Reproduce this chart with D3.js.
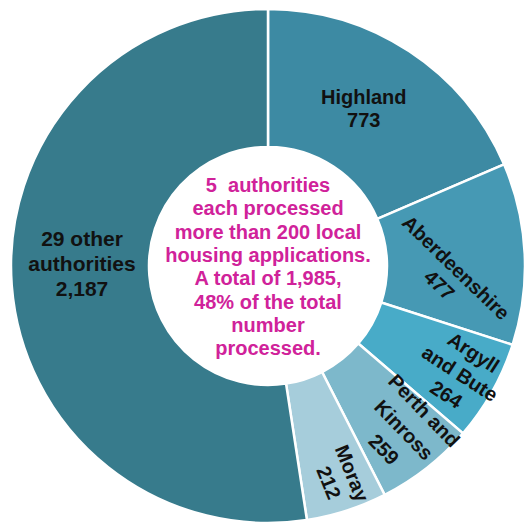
<!DOCTYPE html>
<html>
<head>
<meta charset="utf-8">
<script src="https://cdn.jsdelivr.net/npm/d3@7"></script>
<style>
  body { margin: 0; background: #fff; }
  text { font-family: "Liberation Sans", Arial, sans-serif; font-weight: bold; }
</style>
</head>
<body>
<div class="donut"></div>
<script>
// data
var names = ["Highland", "Aberdeenshire", "Argyll and Bute", "Perth and Kinross", "Moray", "29 other authorities"];
var values = [773, 477, 264, 259, 212, 2187];
var labelLines = [["Highland"], ["Aberdeenshire"], ["Argyll", "and Bute"], ["Perth and", "Kinross"], ["Moray"], ["29 other", "authorities"]];
var centreText = ["5  authorities", "each processed", "more than 200 local", "housing applications.",
                  "A total of 1,985,", "48% of the total", "number", "processed."];

function drawDonut() {

    var width = 526, height = 526;
    var cx = 268, cy = 266;
    var outerR = 257, innerR = 119;

    var colour = d3.scaleOrdinal()
        .domain(names)
        .range(["#3d8aa3", "#4699b4", "#48abc8", "#7db8cb", "#a6cddb", "#377b8c"]);

    // label placement tweaks: radius, angle nudge (deg), rotation (deg), line height
    var labelStyle = {
        "Highland":             {r: 184, da: -2,   rot: 0,  lh: 23, fs: 20},
        "Aberdeenshire":        {r: 180, da: 6,    rot: 44, lh: 24, fs: 20},
        "Argyll and Bute":      {r: 220, da: 0,    rot: 33, lh: 25, fs: 20},
        "Perth and Kinross":    {r: 213, da: -1.5, rot: 46, lh: 28, fs: 20},
        "Moray":                {r: 224, da: -1,   rot: 68, lh: 25, fs: 20},
        "29 other authorities": {r: 186, da: 5,    rot: 0,  lh: 25, fs: 21}
    };

    var data = names.map(function(n, i) {
        return {name: n, value: values[i], lines: labelLines[i]};
    });

    var pie = d3.pie()
        .sort(null)
        .value(function(d) { return d.value; });

    var arc = d3.arc()
        .innerRadius(innerR)
        .outerRadius(outerR);

    var svg = d3.select(".donut").append("svg")
        .attr("width", width)
        .attr("height", height)
      .append("g")
        .attr("transform", `translate(${cx}, ${cy})`);

    var slices = pie(data);

    svg.selectAll("path")
        .data(slices)
        .enter().append("path")
        .attr("d", arc)
        .attr("fill", function(d) { return colour(d.data.name); })
        .attr("stroke", "#fff")
        .attr("stroke-width", 2.5);

    var fmt = d3.format(",");

    svg.selectAll(".label")
        .data(slices)
        .enter().append("text")
        .attr("class", "label")
        .attr("text-anchor", "middle")
        .style("fill", "#111")
        .style("font-size", function(d) { return labelStyle[d.data.name].fs + "px"; })
        .attr("transform", function(d) {
            var s = labelStyle[d.data.name];
            var a = (d.startAngle + d.endAngle) / 2 + s.da * Math.PI / 180;
            var x = s.r * Math.sin(a), y = -s.r * Math.cos(a);
            return `translate(${x}, ${y}) rotate(${s.rot})`;
        })
        .each(function(d) {
            var s = labelStyle[d.data.name];
            var lines = d.data.lines.concat([fmt(d.data.value)]);
            var t = d3.select(this);
            var y0 = -(lines.length - 1) / 2 * s.lh + 7;
            lines.forEach(function(l, i) {
                t.append("tspan")
                    .attr("x", 0)
                    .attr("y", y0 + i * s.lh)
                    .text(l);
            });
        });

    // centre note
    var note = svg.append("text")
        .attr("text-anchor", "middle")
        .style("font-size", "20px")
        .style("fill", "#d0229a");
    var nh = 23.3;
    centreText.forEach(function(l, i) {
        note.append("tspan")
            .attr("x", 0)
            .attr("y", -74 + i * nh)
            .style("white-space", "pre")
            .text(l);
    });
}

drawDonut();
</script>
</body>
</html>
